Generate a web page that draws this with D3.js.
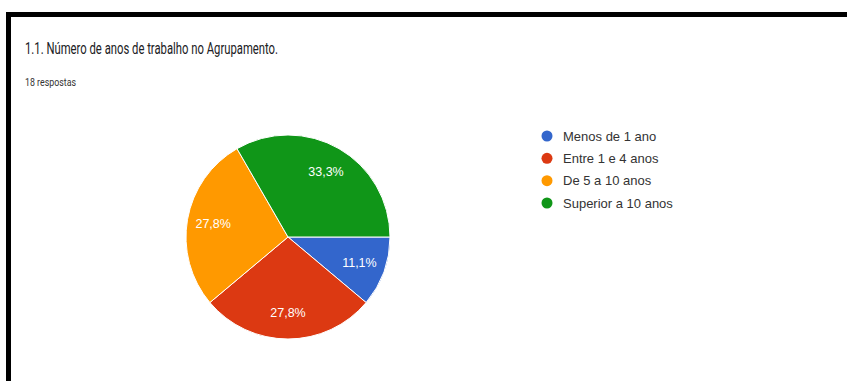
<!DOCTYPE html>
<html>
<head>
<meta charset="utf-8">
<script src="https://cdn.jsdelivr.net/npm/d3@7"></script>
<style>
  html, body { margin: 0; padding: 0; background: #fff; }
  svg { display: block; }
</style>
</head>
<body>
<div id="chart"></div>
<script>
// data (18 answers)
var categories = ['Menos de 1 ano', 'Entre 1 e 4 anos', 'De 5 a 10 anos', 'Superior a 10 anos'];
var counts = [2, 5, 5, 6];
var percentLabels = ['11,1%', '27,8%', '27,8%', '33,3%'];
var colors = ['#3366cc', '#dc3912', '#ff9900', '#109618'];

var view = { width: 847, height: 381 };
var pieCenter = { x: 288, y: 237 };
var radius = 102;

var svg = d3.select('#chart')
    .append('svg')
    .attr('width', view.width)
    .attr('height', view.height);

// thick black frame (only left + top visible)
svg.append('path')
    .attr('d', 'M8.5,' + (view.height + 10) + 'V14.5H' + (view.width + 10))
    .attr('fill', 'none')
    .attr('stroke', '#000')
    .attr('stroke-width', 5);

svg.append('text')
    .attr('x', 25)
    .attr('y', 54)
    .attr('textLength', 253)
    .attr('lengthAdjust', 'spacingAndGlyphs')
    .style('font-family', 'Roboto, Arial, sans-serif')
    .style('font-size', '17px')
    .style('fill', '#202124')
    .text('1.1. Número de anos de trabalho no Agrupamento.');

svg.append('text')
    .attr('x', 25)
    .attr('y', 86)
    .attr('textLength', 51)
    .attr('lengthAdjust', 'spacingAndGlyphs')
    .style('font-family', 'Roboto, Arial, sans-serif')
    .style('font-size', '11px')
    .style('fill', '#333')
    .text('18 respostas');

var color = d3.scaleOrdinal().domain(categories).range(colors);

var pie = d3.pie()
    .sort(null)
    .startAngle(Math.PI / 2)
    .endAngle(Math.PI / 2 + 2 * Math.PI)
    .value(function(d) { return d.value; });

var slices = pie(categories.map(function(c, i) {
    return { name: c, value: counts[i], label: percentLabels[i] };
}));

var arc = d3.arc().innerRadius(0).outerRadius(radius);
var labelArc = d3.arc().innerRadius(76).outerRadius(76);

var pieGroup = svg.append('g')
    .attr('transform', 'translate(' + pieCenter.x + ',' + pieCenter.y + ')');

pieGroup.selectAll('path.slice')
    .data(slices)
    .enter().append('path')
    .attr('class', 'slice')
    .attr('d', arc)
    .attr('fill', function(d) { return color(d.data.name); })
    .attr('stroke', '#fff')
    .attr('stroke-width', 1);

pieGroup.selectAll('text.pct')
    .data(slices)
    .enter().append('text')
    .attr('class', 'pct')
    .attr('transform', function(d) { return 'translate(' + labelArc.centroid(d) + ')'; })
    .attr('text-anchor', 'middle')
    .attr('dy', '0.35em')
    .style('font-family', 'Arial, "Liberation Sans", sans-serif')
    .style('font-size', '12.5px')
    .style('fill', '#fff')
    .text(function(d) { return d.data.label; });

// legend
var legendY = d3.scalePoint().domain(categories).range([136, 203]);

var legend = svg.append('g').attr('class', 'legend');

legend.selectAll('circle')
    .data(categories)
    .enter().append('circle')
    .attr('cx', 547)
    .attr('cy', function(d) { return legendY(d); })
    .attr('r', 5.5)
    .attr('fill', function(d) { return color(d); });

legend.selectAll('text')
    .data(categories)
    .enter().append('text')
    .attr('x', 563)
    .attr('y', function(d) { return legendY(d); })
    .attr('dy', '0.35em')
    .style('font-family', 'Arial, "Liberation Sans", sans-serif')
    .style('font-size', '13px')
    .style('fill', '#333')
    .text(function(d) { return d; });
</script>
</body>
</html>
